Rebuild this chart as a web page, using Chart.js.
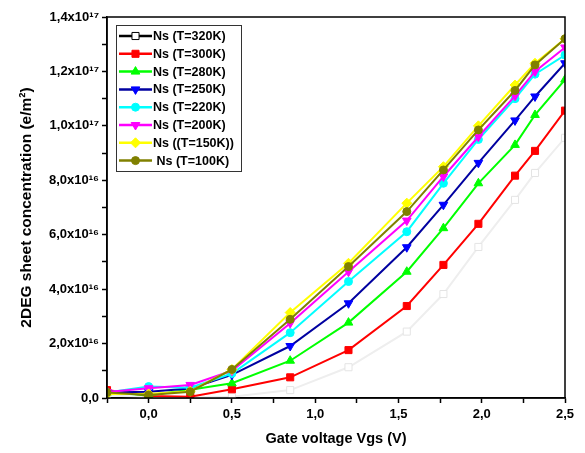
<!DOCTYPE html>
<html>
<head>
<meta charset="utf-8">
<script src="https://cdn.jsdelivr.net/npm/chart.js@4/dist/chart.umd.min.js"></script>
<style>
  html, body { margin: 0; padding: 0; background: #fff; }
  #wrap { width: 585px; height: 453px; }
</style>
</head>
<body>
<div id="wrap"><canvas id="myChart" width="585" height="453"></canvas></div>
<script>
'use strict';

// gate voltage (V)
const vgs = [-0.25, 0, 0.25, 0.5, 0.85, 1.2, 1.55, 1.77, 1.98, 2.2, 2.32, 2.5];

// sheet concentration, in units of 1e16 e/m2
const UNIT = 1e16;
const ns320 = [0.10, 0.02, 0.02, 0.05, 0.29, 1.13, 2.44, 3.82, 5.55, 7.28, 8.27, 9.56];
const ns300 = [0.29, 0.07, 0.05, 0.32, 0.76, 1.76, 3.38, 4.89, 6.40, 8.17, 9.08, 10.56];
const ns280 = [0.20, 0.10, 0.30, 0.54, 1.37, 2.77, 4.64, 6.24, 7.89, 9.30, 10.40, 11.70];
const ns250 = [0.20, 0.23, 0.35, 0.85, 1.91, 3.48, 5.54, 7.10, 8.64, 10.20, 11.08, 12.30];
const ns220 = [0.20, 0.42, 0.38, 0.90, 2.40, 4.28, 6.11, 7.89, 9.50, 11.00, 11.90, 12.60];
const ns200 = [0.22, 0.36, 0.48, 1.00, 2.75, 4.64, 6.52, 8.14, 9.60, 11.10, 12.00, 12.88];
const ns150 = [0.15, 0.15, 0.25, 1.05, 3.14, 4.95, 7.16, 8.50, 10.00, 11.50, 12.30, 13.20];
const ns100 = [0.20, 0.11, 0.23, 1.05, 2.89, 4.83, 6.85, 8.38, 9.85, 11.30, 12.24, 13.20];

const seriesLabels = ['Ns (T=320K)', 'Ns (T=300K)', 'Ns (T=280K)', 'Ns (T=250K)',
  'Ns (T=220K)', 'Ns (T=200K)', 'Ns ((T=150K))', ' Ns (T=100K)'];
const seriesValues = [ns320, ns300, ns280, ns250, ns220, ns200, ns150, ns100];

const xTitle = 'Gate voltage Vgs (V)';
const yTitle = '2DEG sheet concentration (e/m²)';

// line colour, marker fill/edge, marker style, rotation, legend key colour
let styles = [
  { line: '#eeeeee', fill: '#ffffff', edge: '#e4e4e4', shape: 'rect', rot: 0, key: '#000000', keyEdge: '#000000' },
  { line: '#ff0000', fill: '#ff0000', edge: '#ff0000', shape: 'rect', rot: 0 },
  { line: '#00ff00', fill: '#00ff00', edge: '#00ff00', shape: 'triangle', rot: 0 },
  { line: '#0000a0', fill: '#0000ff', edge: '#0000ff', shape: 'triangle', rot: 180 },
  { line: '#00ffff', fill: '#00ffff', edge: '#00ffff', shape: 'circle', rot: 0 },
  { line: '#ff00ff', fill: '#ff00ff', edge: '#ff00ff', shape: 'triangle', rot: 180 },
  { line: '#ffff00', fill: '#ffff00', edge: '#ffff00', shape: 'rectRot', rot: 0 },
  { line: '#808000', fill: '#808000', edge: '#808000', shape: 'circle', rot: 0 }
];

let markerRadius = shape => shape === 'circle' ? 4 : 5;

let supDigits = { '0': '⁰', '1': '¹', '2': '²', '3': '³', '4': '⁴', '5': '⁵', '6': '⁶', '7': '⁷', '8': '⁸', '9': '⁹' };
let sup = n => String(n).split('').map(c => supDigits[c]).join('');

let fmtY = v => {
  if (Math.abs(v) < 1) return '0,0';
  let exp = v >= 1e17 - 1 ? 17 : 16;
  let m = v / Math.pow(10, exp);
  return m.toFixed(1).replace('.', ',') + 'x10' + sup(exp);
};

let fmtX = v => {
  let r = Math.round(v * 100) / 100;
  if (Math.abs(r * 2 - Math.round(r * 2)) > 1e-6 || r < 0) return '';
  return r.toFixed(1).replace('.', ',');
};

let datasets = seriesValues.map((vals, i) => {
  let s = styles[i];
  return {
    label: seriesLabels[i],
    data: vals.map((v, j) => ({ x: vgs[j], y: v * UNIT })),
    borderColor: s.line,
    backgroundColor: s.fill,
    borderWidth: 2,
    pointStyle: s.shape,
    pointRotation: s.rot,
    pointRadius: markerRadius(s.shape),
    pointBackgroundColor: s.fill,
    pointBorderColor: s.edge,
    pointBorderWidth: 1,
    tension: 0,
    order: seriesValues.length - i
  };
});

let FONT = '"Liberation Sans", Arial, sans-serif';

// frame around the plot area
let framePlugin = {
  id: 'frame',
  afterDraw(chart) {
    let ctx = chart.ctx, a = chart.chartArea;
    ctx.save();
    ctx.strokeStyle = '#000';
    ctx.lineWidth = 1.5;
    ctx.strokeRect(a.left, a.top, a.right - a.left, a.bottom - a.top);
    ctx.restore();
  }
};

function drawKeyMarker(ctx, s, x, y) {
  ctx.save();
  ctx.fillStyle = s.fill;
  ctx.strokeStyle = s.keyEdge || s.edge;
  ctx.lineWidth = 1;
  Chart.helpers.drawPoint(ctx, {
    pointStyle: s.shape,
    rotation: s.rot,
    radius: markerRadius(s.shape),
    borderWidth: 1
  }, x, y);
  ctx.restore();
}

// legend box with line + marker keys, Origin style
let keyLegendPlugin = {
  id: 'keyLegend',
  afterDraw(chart) {
    let ctx = chart.ctx, a = chart.chartArea;
    let bx = a.left + 9, by = a.top + 8, bw = 125, bh = 146;
    ctx.save();
    ctx.fillStyle = '#fff';
    ctx.fillRect(bx, by, bw, bh);
    ctx.strokeStyle = '#333';
    ctx.lineWidth = 1;
    ctx.strokeRect(bx + 0.5, by + 0.5, bw, bh);
    ctx.font = 'bold 12.5px ' + FONT;
    ctx.textBaseline = 'middle';
    chart.data.datasets.forEach((ds, i) => {
      let s = styles[i];
      let y = by + 11 + i * 17.8;
      let x0 = bx + 3, x1 = bx + 36;
      ctx.strokeStyle = s.key || s.line;
      ctx.lineWidth = 2.5;
      ctx.beginPath();
      ctx.moveTo(x0, y);
      ctx.lineTo(x1, y);
      ctx.stroke();
      drawKeyMarker(ctx, s, (x0 + x1) / 2, y);
      ctx.fillStyle = '#000';
      ctx.fillText(ds.label, x1 + 1, y + 0.5);
    });
    ctx.restore();
  }
};

let chartContext = document.getElementById('myChart').getContext('2d');

new Chart(chartContext, {
  type: 'line',
  data: { datasets },
  options: {
    responsive: false,
    animation: false,
    devicePixelRatio: 1,
    layout: { padding: { top: 17, right: 20, left: 0, bottom: 0 } },
    plugins: {
      legend: { display: false },
      tooltip: { enabled: false }
    },
    scales: {
      x: {
        type: 'linear',
        min: -0.25,
        max: 2.5,
        afterFit: s => { s.height = 55; },
        afterBuildTicks: s => {
          s.ticks = [];
          for (let k = -1; k <= 10; k++) s.ticks.push({ value: k * 0.25 });
        },
        ticks: {
          autoSkip: false,
          maxRotation: 0,
          padding: 4,
          color: '#000',
          font: { family: FONT, weight: 'bold', size: 13 },
          callback: v => fmtX(v)
        },
        grid: { drawOnChartArea: false, tickLength: 5, tickColor: '#000', tickWidth: 1.5 },
        border: { color: '#000', width: 1.5 },
        title: {
          display: true,
          text: xTitle,
          color: '#000',
          font: { family: FONT, weight: 'bold', size: 14.5 },
          padding: { top: 0, bottom: 5 }
        }
      },
      y: {
        type: 'linear',
        min: 0,
        max: 1.4e17,
        afterFit: s => { s.width = 107; },
        afterBuildTicks: s => {
          s.ticks = [];
          for (let k = 0; k <= 14; k++) s.ticks.push({ value: k * 1e16 });
        },
        ticks: {
          autoSkip: false,
          padding: 3,
          color: '#000',
          font: { family: FONT, weight: 'bold', size: 13 },
          callback: v => (Math.round(v / 1e16) % 2 === 0 ? fmtY(v) : '')
        },
        grid: { drawOnChartArea: false, tickLength: 5, tickColor: '#000', tickWidth: 1.5 },
        border: { color: '#000', width: 1.5 },
        title: {
          display: true,
          text: yTitle,
          color: '#000',
          font: { family: FONT, weight: 'bold', size: 15.5 },
          padding: { top: 17, bottom: 0 }
        }
      }
    }
  },
  plugins: [framePlugin, keyLegendPlugin]
});
</script>
</body>
</html>
